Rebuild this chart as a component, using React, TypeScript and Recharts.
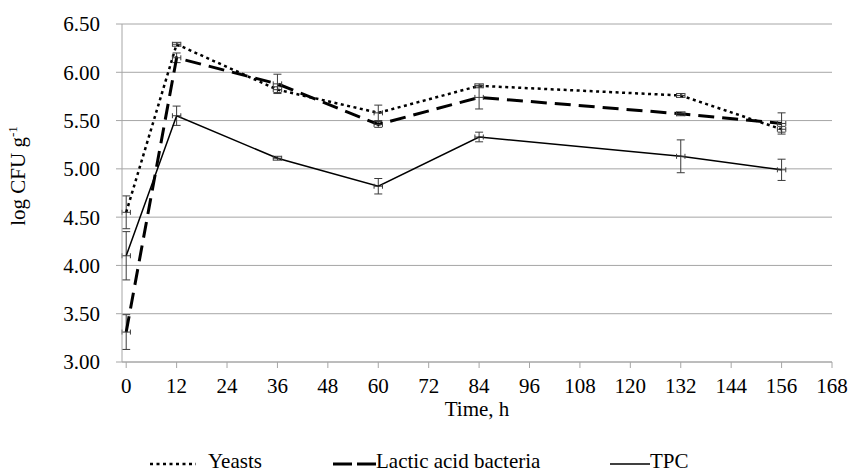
import { ComposedChart, Line, Scatter, XAxis, YAxis, CartesianGrid, ErrorBar, Legend } from 'recharts';

// sampling times (h) and measured log CFU/g with standard deviations
const hours = [0, 12, 36, 60, 84, 132, 156];
const timeErr = [1, 1, 1, 1, 1, 1, 1];
const yeasts = [4.55, 6.29, 5.82, 5.58, 5.86, 5.76, 5.41];
const yeastsErr = [0.17, 0.02, 0.03, 0.08, 0.02, 0.02, 0.03];
const lab = [3.31, 6.15, 5.88, 5.46, 5.74, 5.57, 5.47];
const labErr = [0.18, 0.05, 0.1, 0.03, 0.12, 0.02, 0.11];
const tpc = [4.1, 5.55, 5.11, 4.82, 5.33, 5.13, 4.99];
const tpcErr = [0.25, 0.1, 0.02, 0.08, 0.05, 0.17, 0.11];

const timeTicks = [0, 12, 24, 36, 48, 60, 72, 84, 96, 108, 120, 132, 144, 156, 168];
const valueTicks = [3, 3.5, 4, 4.5, 5, 5.5, 6, 6.5];

const data = hours.map((h, i) => ({
  time: h,
  timeErr: timeErr[i],
  yeasts: yeasts[i],
  yeastsErr: yeastsErr[i],
  lab: lab[i],
  labErr: labErr[i],
  tpc: tpc[i],
  tpcErr: tpcErr[i],
}));

const FONT = 'Liberation Serif, Tinos, Times New Roman, DejaVu Serif, serif';
const GRID = '#a6a6a6';
const BAR = '#3a3a3a';

const tickStyle = { fontSize: 21, fill: '#000', fontFamily: FONT };

function YLabel() {
  return (
    <text
      x={25}
      y={176}
      transform="rotate(-90, 25, 176)"
      textAnchor="middle"
      fontSize={21}
      fontFamily={FONT}
      fill="#000"
    >
      log CFU g<tspan fontSize={13} dy={-8}>-1</tspan>
    </text>
  );
}

function XLabel(props: any) {
  const vb = props.viewBox || {};
  return (
    <text
      x={vb.x + vb.width / 2}
      y={416}
      textAnchor="middle"
      fontSize={21}
      fontFamily={FONT}
      fill="#000"
    >
      Time, h
    </text>
  );
}

function renderLegend() {
  return (
    <svg width={850} height={28} style={{ display: 'block', overflow: 'visible' }}>
      <line x1={150} y1={22} x2={196} y2={22} stroke="#000" strokeWidth={2.5} strokeDasharray="3 3.5" />
      <text x={208} y={26} fontSize={21} fontFamily={FONT} fill="#000">Yeasts</text>
      <line x1={333} y1={22} x2={376} y2={22} stroke="#000" strokeWidth={3} strokeDasharray="19 5" />
      <text x={376} y={26} fontSize={21} fontFamily={FONT} fill="#000">Lactic acid bacteria</text>
      <line x1={610} y1={22} x2={650} y2={22} stroke="#000" strokeWidth={1.5} />
      <text x={650} y={26} fontSize={21} fontFamily={FONT} fill="#000">TPC</text>
    </svg>
  );
}

const noShape = () => <g />;

export default function App() {
  return (
    <div style={{ position: 'absolute', left: 0, top: 0, width: 850, height: 472, background: '#fff' }}>
      <ComposedChart
        width={850}
        height={472}
        data={data}
        margin={{ top: 24, right: 18, bottom: 2, left: 0 }}
        style={{ fontFamily: FONT }}
      >
        <CartesianGrid vertical={false} stroke={GRID} strokeWidth={1} />
        <XAxis
          dataKey="time"
          type="number"
          domain={[0, 168]}
          ticks={timeTicks}
          interval={0}
          height={80}
          stroke={GRID}
          tickSize={6}
          tickMargin={10}
          tick={tickStyle}
          label={<XLabel />}
        />
        <YAxis
          type="number"
          domain={[3, 6.5]}
          ticks={valueTicks}
          interval={0}
          width={122}
          stroke={GRID}
          tickSize={6}
          tickMargin={16}
          tick={tickStyle}
          tickFormatter={(v: number) => v.toFixed(2)}
          label={<YLabel />}
        />
        <Legend verticalAlign="bottom" height={28} wrapperStyle={{ height: 28 }} content={renderLegend} />
        <Line
          dataKey="yeasts"
          name="Yeasts"
          stroke="#000"
          strokeWidth={2.5}
          strokeDasharray="3 3.5"
          dot={false}
          activeDot={false}
          isAnimationActive={false}
        >
          <ErrorBar dataKey="yeastsErr" direction="y" width={4} stroke={BAR} strokeWidth={1} />
        </Line>
        <Line
          dataKey="lab"
          name="Lactic acid bacteria"
          stroke="#000"
          strokeWidth={3}
          strokeDasharray="16 8"
          dot={false}
          activeDot={false}
          isAnimationActive={false}
        >
          <ErrorBar dataKey="labErr" direction="y" width={4} stroke={BAR} strokeWidth={1} />
        </Line>
        <Line
          dataKey="tpc"
          name="TPC"
          stroke="#000"
          strokeWidth={1.5}
          dot={false}
          activeDot={false}
          isAnimationActive={false}
        >
          <ErrorBar dataKey="tpcErr" direction="y" width={4} stroke={BAR} strokeWidth={1} />
        </Line>
        {/* horizontal (time) error bars */}
        <Scatter dataKey="yeasts" shape={noShape} legendType="none" isAnimationActive={false}>
          <ErrorBar dataKey="timeErr" direction="x" width={2.5} stroke={BAR} strokeWidth={1} />
        </Scatter>
        <Scatter dataKey="lab" shape={noShape} legendType="none" isAnimationActive={false}>
          <ErrorBar dataKey="timeErr" direction="x" width={2.5} stroke={BAR} strokeWidth={1} />
        </Scatter>
        <Scatter dataKey="tpc" shape={noShape} legendType="none" isAnimationActive={false}>
          <ErrorBar dataKey="timeErr" direction="x" width={2.5} stroke={BAR} strokeWidth={1} />
        </Scatter>
      </ComposedChart>
    </div>
  );
}
